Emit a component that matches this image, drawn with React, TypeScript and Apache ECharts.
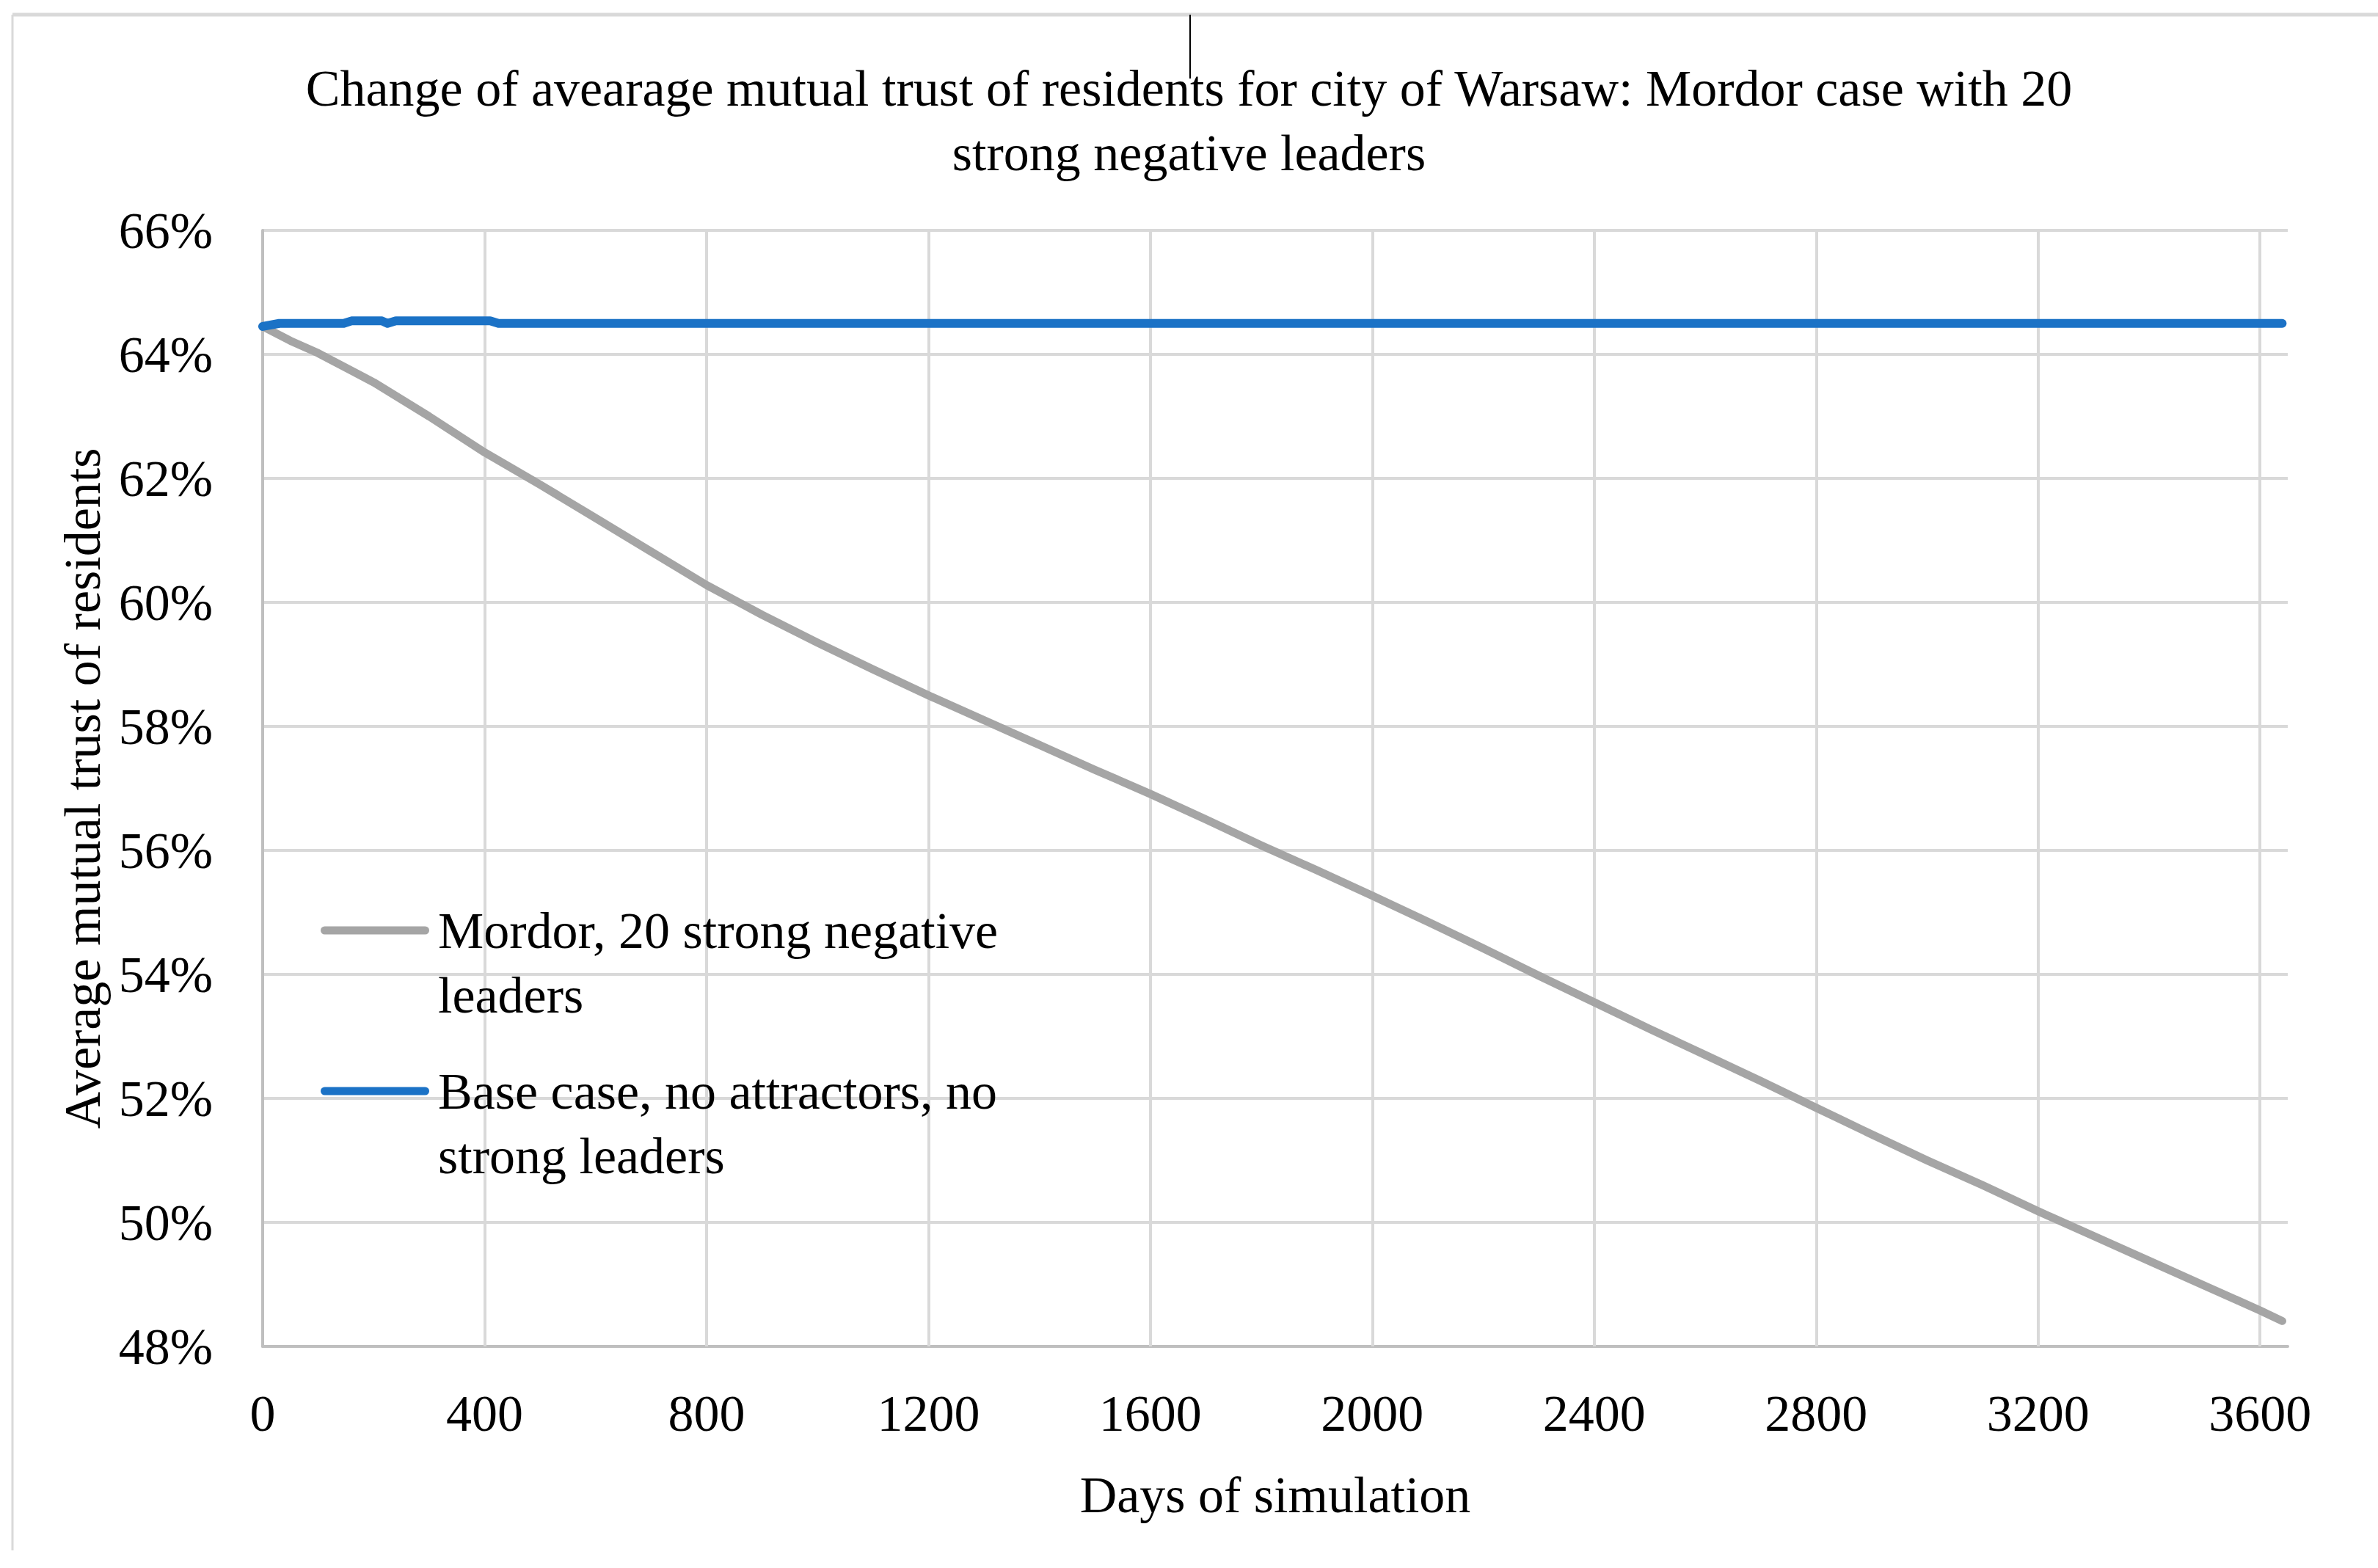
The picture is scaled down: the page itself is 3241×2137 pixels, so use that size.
import React, { useEffect, useRef } from "react";
import * as echarts from "echarts";

const FONT = "'Liberation Serif', 'Times New Roman', serif";

const titleLines = [
  "Change of avearage mutual trust of residents for city of Warsaw: Mordor case with 20",
  "strong negative leaders",
];
const xAxisTitle = "Days of simulation";
const yAxisTitle = "Average mutual trust of residents";
const seriesNames = [
  "Mordor, 20 strong negative leaders",
  "Base case, no attractors, no strong leaders",
];
const legendLines = [
  ["Mordor, 20 strong negative", "leaders"],
  ["Base case, no attractors, no", "strong leaders"],
];

const xTicks = [0, 400, 800, 1200, 1600, 2000, 2400, 2800, 3200, 3600];
const xMax = 3650;
const yTicks = [48, 50, 52, 54, 56, 58, 60, 62, 64, 66];

const mordorDays = [
  0, 50, 100, 200, 300, 400, 500, 600, 700, 800, 900, 1000, 1100, 1200, 1300, 1400,
  1500, 1600, 1700, 1800, 1900, 2000, 2100, 2200, 2300, 2400, 2500, 2600, 2700, 2800,
  2900, 3000, 3100, 3200, 3300, 3400, 3500, 3600, 3640,
];
const mordorTrust = [
  64.45, 64.22, 64.02, 63.55, 63.0, 62.42, 61.9, 61.36, 60.82, 60.28, 59.8, 59.35,
  58.92, 58.5, 58.1, 57.7, 57.3, 56.91, 56.5, 56.08, 55.68, 55.27, 54.85, 54.42, 53.98,
  53.55, 53.12, 52.7, 52.28, 51.85, 51.42, 51.0, 50.6, 50.18, 49.78, 49.38, 48.98,
  48.58, 48.41,
];

const baseDays = [0, 30, 146, 160, 215, 225, 240, 410, 425, 3640];
const baseTrust = [64.45, 64.5, 64.5, 64.54, 64.54, 64.5, 64.54, 64.54, 64.5, 64.5];

const GRAY = "#a5a5a5";
const BLUE = "#1b72c6";
const GRID = "#d9d9d9";
const AXIS = "#bfbfbf";
const FS = 70;

const capsule =
  "path://M5.5,0 L142.5,0 A5.5,5.5 0 0 1 142.5,11 L5.5,11 A5.5,5.5 0 0 1 5.5,0 Z";

export default function App() {
  const ref = useRef<HTMLDivElement>(null);

  useEffect(() => {
    if (!ref.current) return;
    const chart = echarts.init(ref.current, null, { renderer: "svg" });

    const legendFor = (i: number, top: number) => ({
      data: [seriesNames[i]],
      left: 437,
      top,
      orient: "vertical",
      padding: 0,
      itemGap: 0,
      itemWidth: 148,
      itemHeight: 11,
      icon: capsule,
      selectedMode: false,
      formatter: () => "\n" + legendLines[i].join("\n"),
      textStyle: {
        fontFamily: FONT,
        fontSize: FS,
        color: "#000",
        lineHeight: 88,
        padding: [0, 0, 0, 7],
      },
    });

    chart.setOption({
      animation: false,
      backgroundColor: "#ffffff",
      title: {
        text: titleLines.join("\n"),
        left: "center",
        top: 76,
        padding: 0,
        textStyle: {
          fontFamily: FONT,
          fontSize: FS,
          fontWeight: "normal",
          color: "#000",
          lineHeight: 88,
        },
      },
      legend: [legendFor(0, 1136), legendFor(1, 1355)],
      grid: { left: 358, right: 123, top: 314, bottom: 302 },
      xAxis: {
        type: "value",
        min: xTicks[0],
        max: xMax,
        interval: xTicks[1] - xTicks[0],
        axisLine: { show: true, onZero: false, lineStyle: { color: AXIS, width: 4 } },
        axisTick: { show: false },
        splitLine: { show: false },
        axisLabel: {
          showMaxLabel: false,
          margin: 56,
          formatter: (v: number) => String(v),
          fontFamily: FONT,
          fontSize: FS,
          color: "#000",
        },
        name: xAxisTitle,
        nameLocation: "middle",
        nameGap: 167,
        nameTextStyle: { fontFamily: FONT, fontSize: FS, color: "#000" },
      },
      yAxis: {
        type: "value",
        min: yTicks[0],
        max: yTicks[yTicks.length - 1],
        interval: yTicks[1] - yTicks[0],
        axisLine: { show: true, lineStyle: { color: AXIS, width: 4 } },
        axisTick: { show: false },
        splitLine: { show: true, lineStyle: { color: GRID, width: 4 } },
        axisLabel: {
          formatter: "{value}%",
          margin: 68,
          fontFamily: FONT,
          fontSize: FS,
          color: "#000",
        },
        name: yAxisTitle,
        nameLocation: "middle",
        nameGap: 211,
        nameRotate: 90,
        nameTextStyle: { fontFamily: FONT, fontSize: FS, color: "#000" },
      },
      series: [
        {
          name: seriesNames[0],
          type: "line",
          data: mordorDays.map((d, i) => [d, mordorTrust[i]]),
          symbol: "none",
          showSymbol: false,
          lineStyle: { color: GRAY, width: 11, cap: "round", join: "round" },
          itemStyle: { color: GRAY },
          z: 3,
          markLine: {
            silent: true,
            z: 1,
            symbol: ["none", "none"],
            label: { show: false },
            lineStyle: { color: GRID, width: 4, type: "solid" },
            data: xTicks.filter((v) => v > 0).map((v) => ({ xAxis: v })),
          },
        },
        {
          name: seriesNames[1],
          type: "line",
          data: baseDays.map((d, i) => [d, baseTrust[i]]),
          symbol: "none",
          showSymbol: false,
          lineStyle: { color: BLUE, width: 12, cap: "round", join: "round" },
          itemStyle: { color: BLUE },
          z: 4,
        },
      ],
      graphic: [
        {
          type: "line",
          shape: { x1: 17, y1: 20, x2: 3241, y2: 20 },
          style: { stroke: GRID, lineWidth: 5 },
        },
        {
          type: "line",
          shape: { x1: 17, y1: 20, x2: 17, y2: 2113 },
          style: { stroke: GRID, lineWidth: 3 },
        },
        {
          type: "line",
          shape: { x1: 1622, y1: 20, x2: 1622, y2: 107 },
          style: { stroke: "#000", lineWidth: 2 },
        },
      ],
    });

    return () => chart.dispose();
  }, []);

  return (
    <div
      ref={ref}
      style={{ position: "absolute", left: 0, top: 0, width: 3241, height: 2137, background: "#fff" }}
    />
  );
}
